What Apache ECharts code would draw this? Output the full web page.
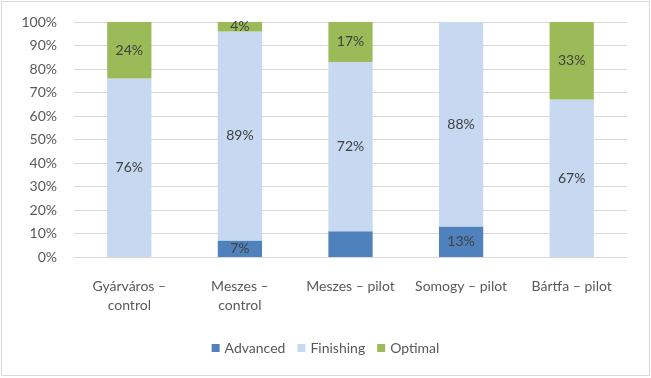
<!DOCTYPE html>
<html>
<head>
<meta charset="utf-8">
<script src="https://cdn.jsdelivr.net/npm/echarts@6/dist/echarts.min.js"></script>
<style>
  html, body { margin: 0; padding: 0; background: #fff; }
  #chart { position: absolute; left: 1px; top: 1px; width: 647px; height: 373px; border: 1px solid #d9d9d9; }
</style>
</head>
<body>
<div id="chart"></div>
<script>
const categories = ['Gyárváros –\ncontrol', 'Meszes –\ncontrol', 'Meszes – pilot', 'Somogy – pilot', 'Bártfa – pilot'];
const advanced = [0, 7, 11, 13, 0];
const finishing = [76, 89, 72, 88, 67];
const optimal = [24, 4, 17, 0, 33];
// labels Excel left off
const hiddenAdvancedLabels = [2];
const yTicks = [0, 10, 20, 30, 40, 50, 60, 70, 80, 90, 100];

const font = 'Lato, "Open Sans", sans-serif';
const chart = echarts.init(document.getElementById('chart'));

const labelCfg = {
  show: true,
  position: 'inside',
  color: '#404040',
  fontSize: 14,
  fontFamily: font,
  formatter: (p) => (p.value ? p.value + '%' : ''),
};

function makeSeries(name, values, color, hidden = []) {
  return {
    name,
    type: 'bar',
    stack: 'total',
    barWidth: '40%',
    itemStyle: { color },
    label: labelCfg,
    data: values.map((v, i) => (hidden.includes(i) ? { value: v, label: { show: false } } : v)),
  };
}

chart.setOption({
  animation: false,
  textStyle: { fontFamily: font },
  grid: { left: 72, right: 22, top: 20, bottom: 118 },
  legend: {
    bottom: 15,
    left: 'center',
    itemWidth: 8,
    itemHeight: 8,
    itemGap: 12,
    icon: 'rect',
    textStyle: { color: '#595959', fontSize: 14, fontFamily: font },
    data: ['Advanced', 'Finishing', 'Optimal'],
  },
  xAxis: {
    type: 'category',
    data: categories,
    axisLine: { lineStyle: { color: '#d9d9d9' } },
    axisTick: { show: false },
    axisLabel: {
      interval: 0,
      hideOverlap: false,
      color: '#595959',
      fontSize: 14,
      fontFamily: font,
      margin: 20,
      lineHeight: 19,
    },
  },
  yAxis: {
    type: 'value',
    min: yTicks[0],
    max: yTicks[yTicks.length - 1],
    interval: 10,
    axisLine: { show: false },
    axisTick: { show: false },
    axisLabel: { color: '#595959', fontSize: 14, fontFamily: font, margin: 17, formatter: '{value}%' },
    splitLine: { lineStyle: { color: '#d9d9d9' } },
  },
  series: [
    makeSeries('Advanced', advanced, '#4f81bd', hiddenAdvancedLabels),
    makeSeries('Finishing', finishing, '#c6d9f0'),
    makeSeries('Optimal', optimal, '#9bbb59'),
  ],
});
</script>
</body>
</html>
